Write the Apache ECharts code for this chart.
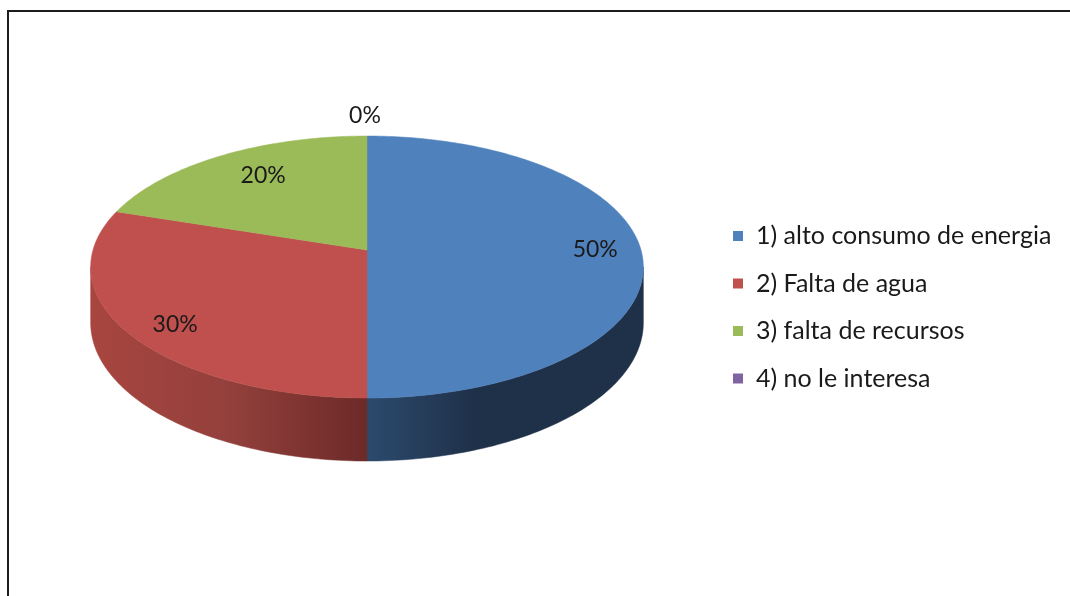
<!DOCTYPE html>
<html>
<head>
<meta charset="utf-8">
<script src="https://cdn.jsdelivr.net/npm/echarts@6/dist/echarts.min.js"></script>
<style>
  html, body { margin: 0; padding: 0; background: #fff; }
  #chart { width: 1070px; height: 596px; }
</style>
</head>
<body>
<div id="chart"></div>
<script>
// ---- data ----
const CATEGORIES = ['1) alto consumo de energia', '2) Falta de agua', '3) falta de recursos', '4) no le interesa'];
const VALUES = [50, 30, 20, 0];

// ---- styles / layout (not data) ----
const TOP_COLORS = ['#4F81BD', '#C0504D', '#9BBB59', '#8064A2'];
const SIDE_STOPS = [
  [[0, '#2C4A6D'], [0.6, '#1F3049'], [1, '#1F3049']],
  [[0, '#A8453F'], [0.5, '#93403C'], [1, '#6C2A28']],
  [[0, '#6E8540'], [1, '#55682F']],
  [[0, '#5C4876'], [1, '#46375A']]
];
const LABEL_NUDGE = [[9, 0], [-3, 10], [15, 2], [-2, -1]];
const FONT = 'Lato, "Open Sans", sans-serif';
const CX = 367, CY = 250, RX = 274, RY = 128.8, H = 54.8, U = 0.13;

const TOTAL = VALUES.reduce((a, b) => a + b, 0);
const START = [];
(function () { let acc = 0; VALUES.forEach(v => { START.push(acc / TOTAL * 360); acc += v; }); })();

function proj(k, deg, drop) {
  const t = deg * Math.PI / 180;
  const s = 1 / (1 + U * k * Math.cos(t));
  return [CX + RX * k * Math.sin(t) * s, CY - RY * k * Math.cos(t) * s + (drop || 0) * s];
}
const SIL = Math.acos(-U) * 180 / Math.PI; // silhouette angle

function rim(a, b, drop) {
  const pts = [];
  const n = Math.max(2, Math.ceil(Math.abs(b - a)));
  for (let i = 0; i <= n; i++) pts.push(proj(1, a + (b - a) * i / n, drop));
  return pts;
}

function renderSlice(params, api) {
  const i = params.seriesIndex;
  const v = api.value(0);
  const a = START[i];
  const b = a + v / TOTAL * 360;
  const children = [];
  if (v > 0) {
    const lo = Math.max(a, SIL), hi = Math.min(b, 360 - SIL);
    if (hi > lo) {
      const top = rim(lo, hi, 0);
      const bot = rim(hi, lo, H);
      const xs = top.concat(bot).map(p => p[0]);
      const x0 = Math.min.apply(null, xs), x1 = Math.max.apply(null, xs);
      const grad = {
        type: 'linear', global: true, y: 0, y2: 0,
        x: x0, x2: (lo >= 180 ? x1 : Math.min(x1, x0 + 180)),
        colorStops: SIDE_STOPS[i].map(s => ({ offset: s[0], color: s[1] }))
      };
      children.push({
        type: 'polygon',
        shape: { points: top.concat(bot) },
        style: { fill: grad, stroke: grad, lineWidth: 0.5 }
      });
    }
    const face = [[CX, CY]].concat(rim(a, b, 0));
    children.push({
      type: 'polygon',
      shape: { points: face },
      style: { fill: TOP_COLORS[i], stroke: TOP_COLORS[i], lineWidth: 0.5 }
    });
  }
  const mid = (a + b) / 2;
  const lp = proj(v > 0 ? 0.8 : 1.2, mid, 0);
  children.push({
    type: 'text',
    z2: 100,
    style: {
      x: lp[0] + LABEL_NUDGE[i][0],
      y: lp[1] + LABEL_NUDGE[i][1],
      text: Math.round(v / TOTAL * 100) + '%',
      fill: '#1a1a1a',
      font: '23px ' + FONT,
      align: 'center',
      verticalAlign: 'middle'
    }
  });
  return { type: 'group', children: children };
}

const chart = echarts.init(document.getElementById('chart'), null, { renderer: 'canvas' });

const series = CATEGORIES.map((name, i) => ({
  type: 'custom',
  name: name,
  coordinateSystem: 'none',
  renderItem: renderSlice,
  itemStyle: { color: TOP_COLORS[i] },
  data: [[VALUES[i]]],
  silent: true,
  animation: false
}));

chart.setOption({
  animation: false,
  color: TOP_COLORS,
  legend: {
    orient: 'vertical',
    left: 733,
    top: 223.5,
    padding: 0,
    itemWidth: 10,
    itemHeight: 10,
    itemGap: 22.5,
    icon: 'rect',
    selectedMode: false,
    data: CATEGORIES,
    textStyle: { fontFamily: FONT, fontSize: 25, color: '#1a1a1a', padding: [0, 0, 0, 8], lineHeight: 25 }
  },
  graphic: [{
    type: 'rect',
    silent: true,
    shape: { x: 8, y: 11, width: 1200, height: 800 },
    style: { fill: 'none', stroke: '#1c1c1c', lineWidth: 2 }
  }],
  series: series
});
</script>
</body>
</html>
